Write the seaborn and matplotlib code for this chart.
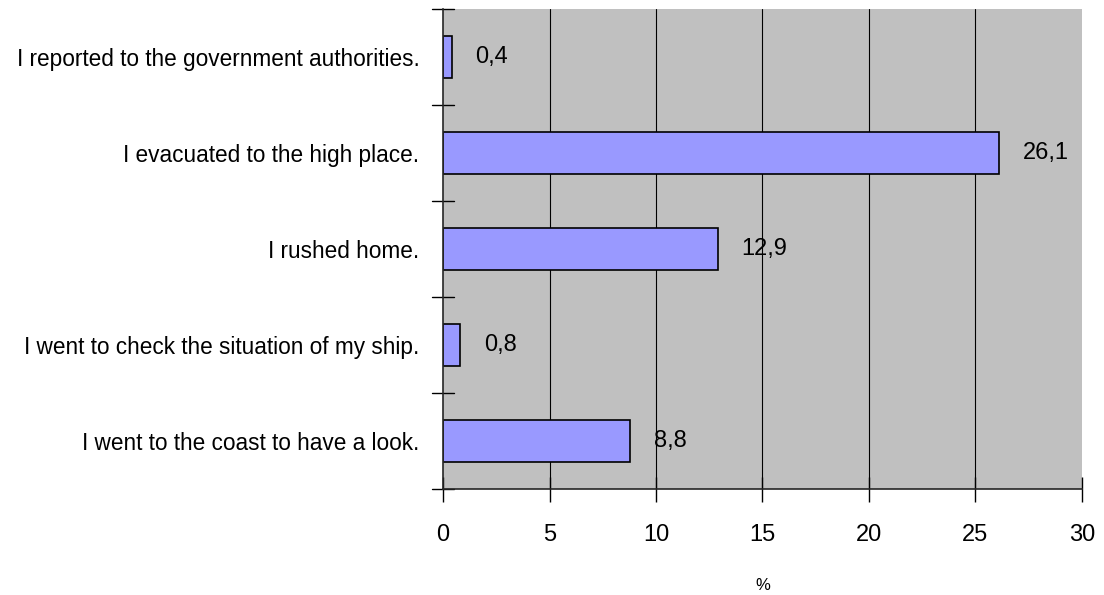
import matplotlib
matplotlib.use("Agg")
import matplotlib.pyplot as plt
import pandas as pd
import seaborn as sns

answers = [
    "I reported to the government authorities.",
    "I evacuated to the high place.",
    "I rushed home.",
    "I went to check the situation of my ship.",
    "I went to the coast to have a look.",
]
percent = [0.4, 26.1, 12.9, 0.8, 8.8]
x_ticks = [0, 5, 10, 15, 20, 25, 30]

df = pd.DataFrame({"answer": answers, "percent": percent})

sns.set_style("ticks")
plt.rcParams["font.family"] = ["Liberation Sans", "DejaVu Sans"]
plt.rcParams["text.color"] = "black"
plt.rcParams["xtick.color"] = "black"
plt.rcParams["ytick.color"] = "black"
plt.rcParams["axes.labelcolor"] = "black"

fig = plt.figure(figsize=(11.04, 5.95), dpi=100)
ax = fig.add_axes([0.4013, 0.178, 0.5787, 0.807])
ax.set_facecolor("#c0c0c0")

sns.barplot(data=df, x="percent", y="answer", orient="h", color="#9999ff",
            saturation=1, width=0.43, edgecolor="black", linewidth=1.2, ax=ax)

ax.set_xlim(0, 30)
ax.set_ylim(4.5, -0.5)
ax.set_xticks(x_ticks)
ax.set_xticklabels([str(t) for t in x_ticks], fontsize=17)
ax.set_xlabel("%", fontsize=12, labelpad=23)
ax.set_ylabel("")

# category labels at centers, boundary tick marks drawn separately
ax.set_yticks(range(len(answers)))
ax.set_yticklabels(answers, fontsize=16.3)
ax.tick_params(axis="y", length=0, pad=17)
for b in [-0.5, 0.5, 1.5, 2.5, 3.5, 4.5]:
    ax.plot([-0.5, 0.5], [b, b], color="black", lw=1, clip_on=False)
ax.tick_params(axis="x", direction="inout", length=18, width=1, pad=16)

for t in x_ticks[1:-1]:
    ax.axvline(t, color="black", lw=0.8, zorder=0)

for s in ["top", "right"]:
    ax.spines[s].set_visible(False)
ax.spines["left"].set_linewidth(1.2)
ax.spines["bottom"].set_linewidth(1.2)
ax.set_axisbelow(True)

for i, v in enumerate(percent):
    ax.annotate(f"{v:.1f}".replace(".", ","), (v, i), xytext=(17, 0),
                textcoords="offset points", va="center", ha="left",
                fontsize=17)

fig.savefig("out.png", dpi=100)
